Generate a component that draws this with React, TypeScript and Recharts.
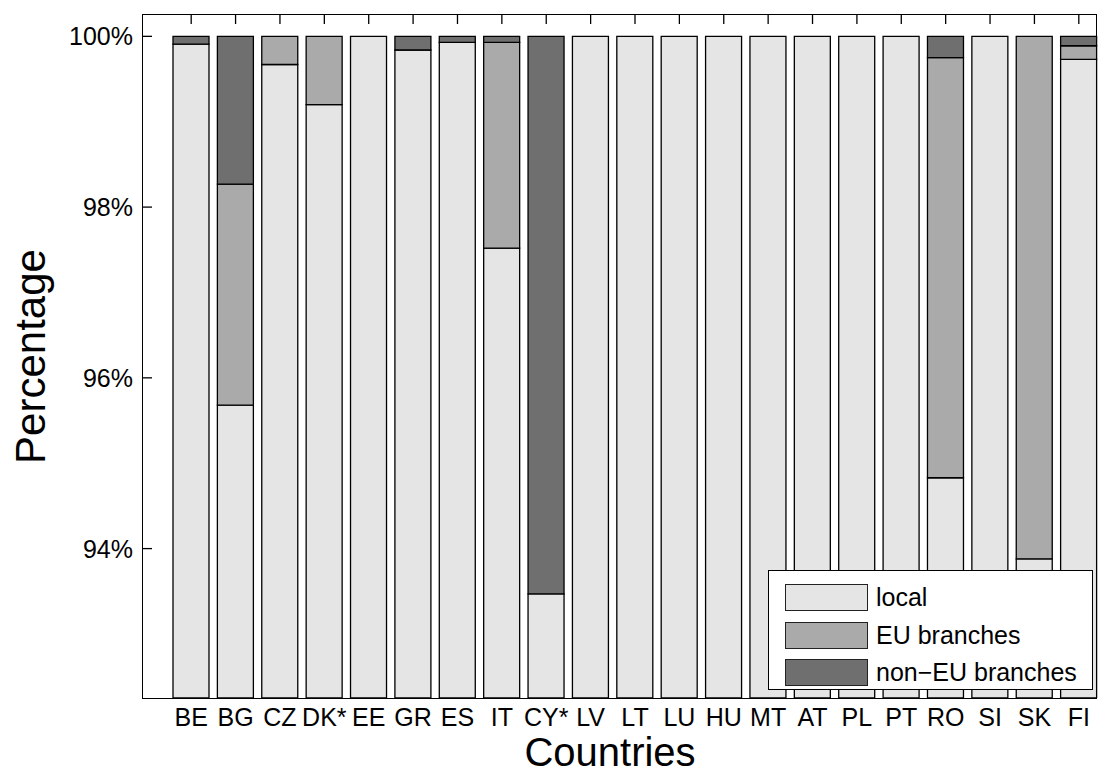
import React from 'react'
import { BarChart, Bar, XAxis, YAxis, Legend } from 'recharts'

// Categories and stacked shares (%)
const countries = ['BE', 'BG', 'CZ', 'DK*', 'EE', 'GR', 'ES', 'IT', 'CY*', 'LV', 'LT', 'LU', 'HU', 'MT', 'AT', 'PL', 'PT', 'RO', 'SI', 'SK', 'FI']
const local = [99.91, 95.68, 99.67, 99.2, 100, 99.84, 99.93, 97.52, 93.47, 100, 100, 100, 100, 100, 100, 100, 100, 94.83, 100, 93.88, 99.73]
const euBranches = [0, 2.59, 0.33, 0.8, 0, 0, 0, 2.41, 0, 0, 0, 0, 0, 0, 0, 0, 0, 4.92, 0, 6.12, 0.16]
const nonEuBranches = [0.09, 1.73, 0, 0, 0, 0.16, 0.07, 0.07, 6.53, 0, 0, 0, 0, 0, 0, 0, 0, 0.25, 0, 0, 0.11]
const yTicks = [94, 96, 98, 100]

const series = [
  { key: 'local', name: 'local', color: '#e5e5e5' },
  { key: 'eu', name: 'EU branches', color: '#aaaaaa' },
  { key: 'noneu', name: 'non\u2212EU branches', color: '#6f6f6f' },
]

const data = countries.map((c, i) => ({
  country: c,
  local: local[i],
  eu: euBranches[i],
  noneu: nonEuBranches[i],
}))

const W = 1106
const H = 776
const PLOT_LEFT = 143
const PLOT_TOP = 15
const PLOT_BOTTOM = 698
const FONT = '"Liberation Sans", Arial, Helvetica, sans-serif'

// x tick: label under the plot + inward tick mark on the top edge
const XTick = (props: any) => {
  const { x, payload } = props
  return (
    <g>
      <line x1={x} x2={x} y1={PLOT_TOP} y2={PLOT_TOP + 9} stroke="#000" strokeWidth={1.3} />
      <text x={x} y={PLOT_BOTTOM + 28} textAnchor="middle" fontSize={25} fontFamily={FONT} fill="#000">
        {payload.value}
      </text>
    </g>
  )
}

// y tick: label left of the axis + inward tick mark
const YTick = (props: any) => {
  const { y, payload } = props
  return (
    <g>
      <line x1={PLOT_LEFT} x2={PLOT_LEFT + 9} y1={y} y2={y} stroke="#000" strokeWidth={1.3} />
      <text x={PLOT_LEFT - 10} y={y + 9} textAnchor="end" fontSize={25} fontFamily={FONT} fill="#000">
        {payload.value}%
      </text>
    </g>
  )
}

const LegendBox = () => (
  <div
    style={{
      width: 325,
      height: 120,
      boxSizing: 'border-box',
      border: '1.5px solid #000',
      background: '#fff',
      paddingTop: 8,
      paddingLeft: 16,
      fontFamily: FONT,
    }}
  >
    {series.map((s) => (
      <div key={s.key} style={{ display: 'flex', alignItems: 'center', height: 37.5 }}>
        <div
          style={{
            width: 83,
            height: 27,
            boxSizing: 'border-box',
            background: s.color,
            border: '1px solid #222',
          }}
        />
        <span style={{ marginLeft: 8, fontSize: 25, color: '#000', lineHeight: '27px' }}>{s.name}</span>
      </div>
    ))}
  </div>
)

export default function App() {
  return (
    <div style={{ position: 'absolute', left: 0, top: 0, width: W, height: H, background: '#fff', fontFamily: FONT }}>
      {/* axes box, drawn behind the bars */}
      <div
        style={{
          position: 'absolute',
          left: PLOT_LEFT - 1,
          top: PLOT_TOP - 1,
          width: 955,
          height: PLOT_BOTTOM - PLOT_TOP + 2,
          boxSizing: 'border-box',
          border: '1.5px solid #000',
        }}
      />
      <div style={{ position: 'absolute', left: 0, top: 0 }}>
        <BarChart
          width={W}
          height={H}
          data={data}
          margin={{ top: PLOT_TOP, right: 5, left: 0, bottom: 0 }}
          barSize={36}
        >
          <XAxis
            dataKey="country"
            interval={0}
            height={H - PLOT_BOTTOM}
            axisLine={false}
            tickLine={false}
            tick={<XTick />}
            padding={{ left: 26, right: 0 }}
            label={{
              value: 'Countries',
              position: 'insideBottom',
              offset: 10,
              dx: -12,
              style: { fontSize: 40, fill: '#000', fontFamily: FONT },
            }}
          />
          <YAxis
            width={PLOT_LEFT}
            domain={[92.25, 100.25]}
            allowDataOverflow
            ticks={yTicks}
            axisLine={false}
            tickLine={false}
            tick={<YTick />}
            label={{
              value: 'Percentage',
              angle: -90,
              position: 'insideLeft',
              offset: 30,
              style: { textAnchor: 'middle', fontSize: 42, fill: '#000', fontFamily: FONT },
            }}
          />
          <Legend
            layout="vertical"
            align="center"
            verticalAlign="middle"
            content={<LegendBox />}
            wrapperStyle={{ left: 768, top: 570, width: 325, height: 120 }}
          />
          {series.map((s) => (
            <Bar
              key={s.key}
              dataKey={s.key}
              name={s.name}
              stackId="a"
              fill={s.color}
              stroke="#000"
              strokeWidth={1.3}
              isAnimationActive={false}
            />
          ))}
        </BarChart>
      </div>
    </div>
  )
}
